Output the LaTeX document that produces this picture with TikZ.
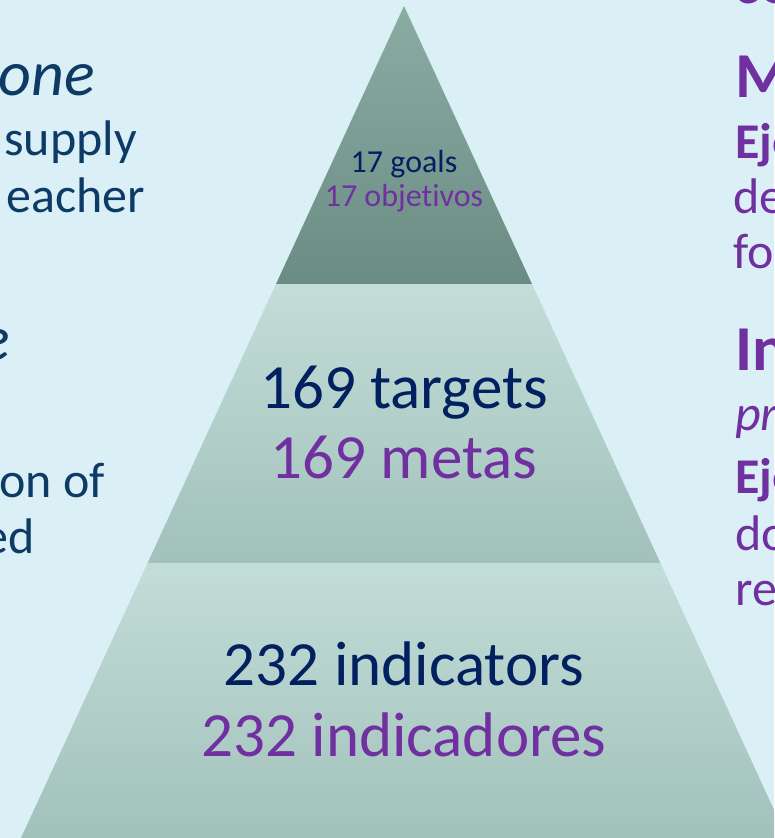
\documentclass[tikz,border=0pt]{standalone}
\usepackage{fontspec}
\setmainfont{Carlito}[Ligatures=NoCommon]
\usetikzlibrary{positioning}

\definecolor{slidebg}{HTML}{DAF0F6}
\definecolor{sdgnavy}{HTML}{002060}
\definecolor{sdgpurple}{HTML}{7030A0}
\definecolor{sidenavy}{HTML}{0D3B66}
\definecolor{tiptop}{HTML}{8BACA3}
\definecolor{tipbottom}{HTML}{6A8C83}
\definecolor{tiertop}{HTML}{C3DDD8}
\definecolor{tierbottom}{HTML}{A2C1BB}

\tikzstyle{en} = [anchor=base, text=sdgnavy, inner sep=0pt]
\tikzstyle{es} = [anchor=base, text=sdgpurple, inner sep=0pt]
\tikzstyle{small} = [font=\fontsize{32}{38}\selectfont]
\tikzstyle{big} = [font=\fontsize{63}{75}\selectfont]
\tikzstyle{lefthead} = [anchor=base east, text=sidenavy, inner sep=0pt, font=\fontsize{64}{76}\selectfont\itshape]
\tikzstyle{leftbody} = [anchor=base east, text=sidenavy, inner sep=0pt, font=\fontsize{50}{60}\selectfont]
\tikzstyle{righthead} = [anchor=base west, text=sdgpurple, inner sep=0pt, font=\fontsize{64}{76}\selectfont\bfseries]
\tikzstyle{rightbody} = [anchor=base west, text=sdgpurple, inner sep=0pt, font=\fontsize{50}{60}\selectfont]

\begin{document}
\begin{tikzpicture}[x=1pt,y=-1pt]
    \fill[slidebg] (0,0) rectangle (774,838);
    \clip (0,0) rectangle (774,838);

    \coordinate (apex) at (404,6);
    \coordinate (tipL) at (276,284);
    \coordinate (tipR) at (532,284);
    \coordinate (midL) at (147.6,563);
    \coordinate (midR) at (660.4,563);
    \coordinate (baseL) at (21,838);
    \coordinate (baseR) at (787,838);

    % pyramid tiers
    \shade[top color=tiptop, bottom color=tipbottom] (apex) -- (tipR) -- (tipL) -- cycle;
    \shade[top color=tiertop, bottom color=tierbottom] (tipL) -- (tipR) -- (midR) -- (midL) -- cycle;
    \shade[top color=tiertop, bottom color=tierbottom] (midL) -- (midR) -- (baseR) -- (baseL) -- cycle;

    \node (goalsEn) [en, small] at (404,172) {17 goals};
    \node (goalsEs) [es, small] at (404,206) {17 objetivos};
    \node (targetsEn) [en, big] at (404,408) {169 targets};
    \node (targetsEs) [es, big] at (404,478) {169 metas};
    \node (indicEn) [en, big] at (404,685) {232 indicators};
    \node (indicEs) [es, big] at (404,756) {232 indicadores};

    % left column, cut by the slide edge
    \node (leftA) [lefthead] at (95,95) {one};
    \node (leftB) [leftbody] at (137,155) {supply};
    \node (leftC) [leftbody] at (145,212) {eacher};
    \node (leftD) [lefthead] at (10,360) {e};
    \node (leftE) [leftbody] at (105,497) {on of};
    \node (leftF) [leftbody] at (35,553) {ed};

    % right column, cut by the slide edge
    \node (rightA) [righthead] at (733,3) {co};
    \node (rightB) [righthead] at (735,97) {M};
    \node (rightC) [rightbody, font=\fontsize{50}{60}\selectfont\bfseries] at (735,158) {Eje};
    \node (rightD) [rightbody] at (733,213) {de};
    \node (rightE) [rightbody] at (733,268) {fo};
    \node (rightF) [righthead] at (735,370) {In};
    \node (rightG) [rightbody, font=\fontsize{50}{60}\selectfont\itshape] at (735,430) {pr};
    \node (rightH) [rightbody, font=\fontsize{50}{60}\selectfont\bfseries] at (735,493) {Eje};
    \node (rightI) [rightbody] at (735,550) {do};
    \node (rightJ) [rightbody] at (735,605) {re};
\end{tikzpicture}
\end{document}
